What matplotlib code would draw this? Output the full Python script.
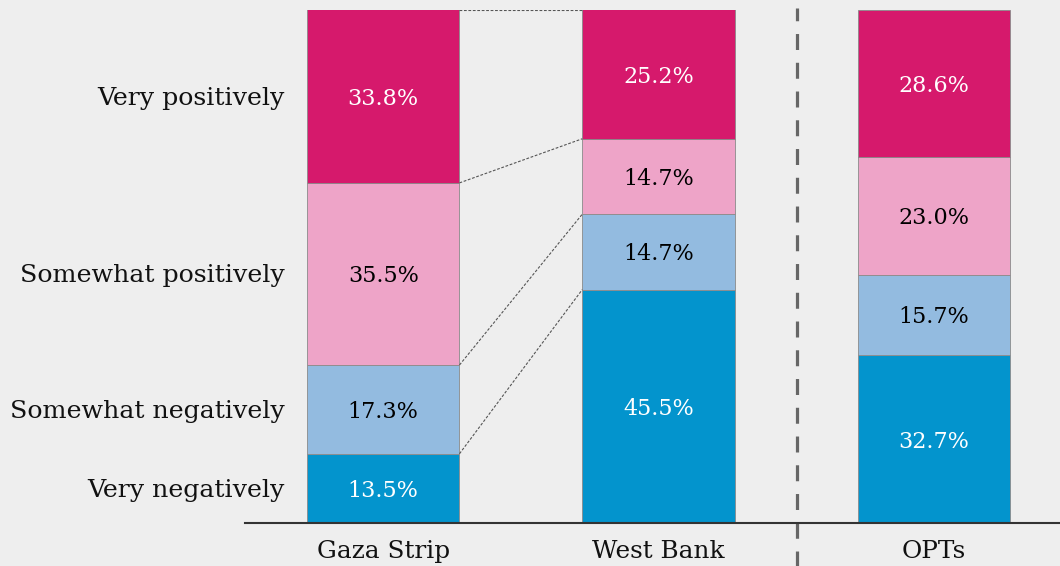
import numpy as np
import matplotlib
matplotlib.use("Agg")
import matplotlib.pyplot as plt

# data (bottom -> top of each stack)
regions = ["Gaza Strip", "West Bank", "OPTs"]
answers = ["Very negatively", "Somewhat negatively", "Somewhat positively", "Very positively"]
very_neg = [13.5, 45.5, 32.7]
some_neg = [17.3, 14.7, 15.7]
some_pos = [35.5, 14.7, 23.0]
very_pos = [33.8, 25.2, 28.6]

colors = ["#0394cd", "#93bbe0", "#eea4c8", "#d6196c"]
text_colors = ["white", "black", "black", "white"]
bg = "#eeeeee"

plt.rcParams["font.family"] = ["DejaVu Serif"]

W, H = 1060, 566
fig = plt.figure(figsize=(W / 100, H / 100), dpi=100, facecolor=bg)
# axes: left at x=245px, baseline y=523px, top (100%) at y=10px
ax = fig.add_axes([245 / W, 43 / H, (W - 245) / W, 513 / H])
ax.set_facecolor(bg)

x = np.arange(len(regions))
width = 0.554
series = [very_neg, some_neg, some_pos, very_pos]
bottom = np.zeros(len(regions))
tops = []
for vals, c, tc in zip(series, colors, text_colors):
    vals = np.array(vals)
    ax.bar(x, vals, width, bottom=bottom, color=c, edgecolor="#8a8a8a", linewidth=0.6)
    for xi, b, v in zip(x, bottom, vals):
        ax.text(xi, b + v / 2, f"{v:.1f}%", ha="center", va="center_baseline",
                color=tc, fontsize=16)
    bottom = bottom + vals
    tops.append(bottom.copy())

# dotted connectors between Gaza and West Bank
for t in tops:
    ax.plot([x[0] + width / 2, x[1] - width / 2], [min(t[0], 100), min(t[1], 100)],
            color="#555555", linestyle=(0, (2.5, 1.5)), linewidth=0.8)

# answer labels, positioned at Gaza segment centres
b0 = 0
for lab, vals in zip(answers, series):
    ax.text(-0.502 + (285 - 245) / 276, b0 + vals[0] / 2 - 0.4, lab, ha="right", va="center",
            fontsize=18.2, color="#111111", clip_on=False)
    b0 += vals[0]

# region labels
for xi, r in zip(x, regions):
    ax.text(xi, -5.6, r, ha="center", va="center", fontsize=17.8, color="#111111")

# separator before OPTs
ax.plot([1.502, 1.502], [-8.5, 100.4], color="#666666", linewidth=2.3,
        linestyle=(0, (5.0, 4.0)), clip_on=False)

ax.set_xlim(-0.502, 2.458)
ax.set_ylim(0, 100)
for s in ["top", "right", "left"]:
    ax.spines[s].set_visible(False)
ax.spines["bottom"].set_color("#333333")
ax.spines["bottom"].set_linewidth(1.5)
ax.set_xticks([])
ax.set_yticks([])

fig.savefig("out.png", dpi=100, facecolor=bg)
